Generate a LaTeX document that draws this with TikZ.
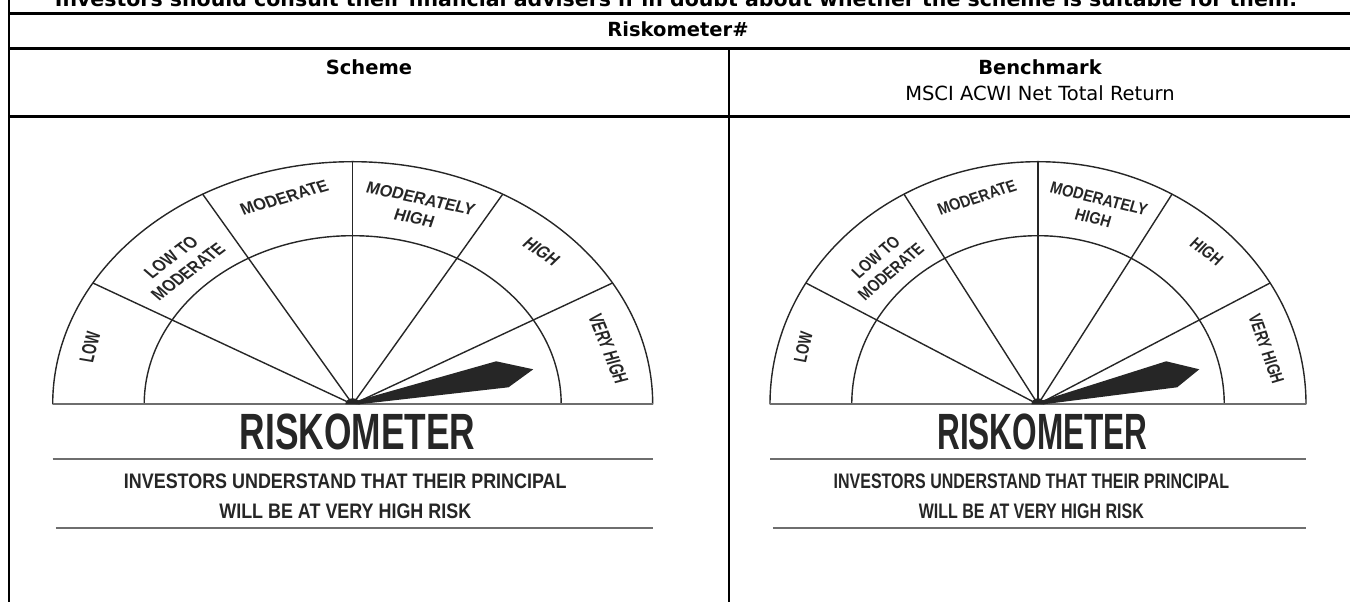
\documentclass[tikz,border=0pt]{standalone}
\usepackage{fontspec}
\setmainfont{DejaVu Sans}
\newfontfamily\gaugefont{Liberation Sans}[FakeStretch=0.8]
\newfontfamily\gaugenotefont{Liberation Sans}[FakeStretch=0.69]
\newfontfamily\gaugetitlefont{Liberation Sans}[FakeStretch=0.56]
\definecolor{gaugeink}{HTML}{262626}
\definecolor{gaugegrey}{HTML}{6E6E6E}

\begin{document}
\begin{tikzpicture}[x=1pt,y=1pt]
\tikzstyle{every node}+=[inner sep=0pt]
\tikzstyle{tablerule}=[line width=2.6pt]
\tikzstyle{gaugeline}=[gaugeink, line width=1.4pt]
\tikzstyle{gaugebase}=[gaugegrey, line width=2pt]
\tikzstyle{gaugelabel}=[gaugeink, align=center, font=\gaugefont\bfseries\fontsize{16.5}{20}\selectfont]
\tikzstyle{gaugenote}=[anchor=base, gaugeink, font=\gaugenotefont\bfseries\fontsize{21}{25}\selectfont]
\tikzstyle{headtext}=[anchor=base, font=\bfseries\fontsize{19.5}{24}\selectfont]
\useasboundingbox (0,0) rectangle (1350,602);
\fill [white] (0,0) rectangle (1350,602);
% table
\node (advice) [headtext, font=\bfseries\fontsize{20.5}{24}\selectfont] at (676,595) {Investors should consult their financial advisers if in doubt about whether the scheme is suitable for them.};
\node (riskhead) [headtext] at (678,565) {Riskometer\#};
\node (schemehead) [headtext] at (369,527) {Scheme};
\node (benchhead) [headtext] at (1040,527) {Benchmark};
\node (benchname) [anchor=base, font=\fontsize{19.5}{24}\selectfont] at (1040,501) {MSCI ACWI Net Total Return};
\draw [tablerule] (9,588.5) -- (1350,588.5);
\draw [tablerule] (9,553.5) -- (1350,553.5);
\draw [tablerule] (9,485.5) -- (1350,485.5);
\draw [tablerule] (9,602) -- (9,0);
\draw [tablerule] (729,553.5) -- (729,0);
% the two riskometers
\foreach \cx/\sx/\g in {352.7/1.2366/scheme, 1038/1.1047/bench} {
\begin{scope}[shift={(\cx,197.7)}, xscale=\sx, transform shape]
\draw [gaugeline] (-242.6,0) arc (180:0:242.6);
\draw [gaugeline] (-168.6,0) arc (180:0:168.6);
\foreach \a in {30,60,...,150}
  \draw [gaugeline] (0,0) -- (\a:242.6);
\draw [gaugebase] (-242.6,0) -- (242.6,0);
\fill [gaugeink] (-4,1) -- (116,43) -- (146,35) -- (126,17) -- (5,0) -- cycle;
\fill [gaugeink] (-6,0) arc (180:0:6) -- cycle;
\foreach \a/\r/\t/\txt in {165/220/78/LOW, 135/198/43/{LOW TO\\MODERATE}, 105/214/20/MODERATE,
    75/203/-15/{MODERATELY\\HIGH}, 45/216/-40/HIGH, 15/214/-72/VERY HIGH}
  \node (\g-\a) [gaugelabel, rotate=\t] at (\a:\r) {\txt};
\node (\g-title) [anchor=base, gaugeink, font=\gaugetitlefont\bfseries\fontsize{51}{51}\selectfont] at (4,-45.7) {RISKOMETER};
\draw [gaugebase, line width=1.6pt] (-242.6,-55) -- (242.6,-55);
\node (\g-note) [gaugenote] at (-6,-84) {INVESTORS UNDERSTAND THAT THEIR PRINCIPAL};
\node (\g-risk) [gaugenote] at (-6,-114) {WILL BE AT VERY HIGH RISK};
\draw [gaugebase] (-240,-123.7) -- (242.6,-123.7);
\end{scope}
}
\end{tikzpicture}
\end{document}
